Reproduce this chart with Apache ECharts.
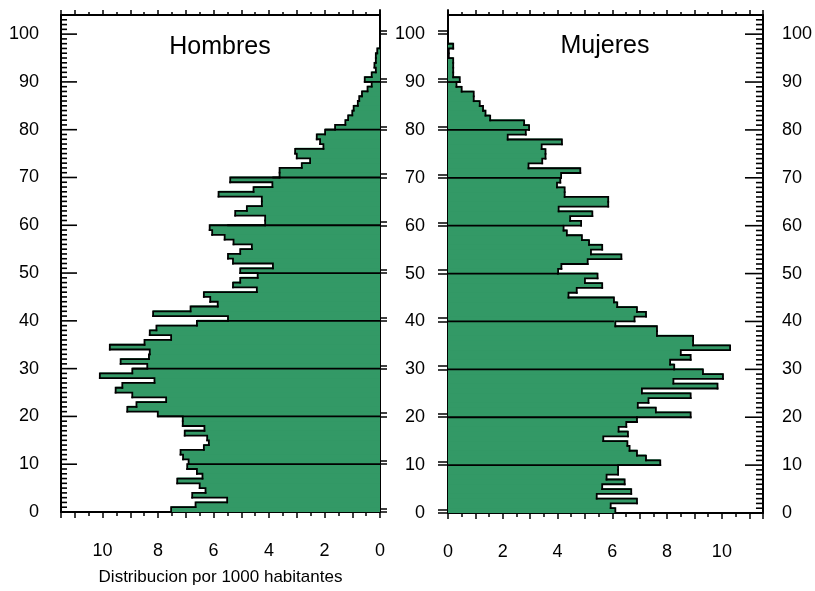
<!DOCTYPE html>
<html><head><meta charset="utf-8">
<script src="https://cdn.jsdelivr.net/npm/echarts@6/dist/echarts.min.js"></script>
<style>html,body{margin:0;padding:0;background:#fff}#c{width:815px;height:591px}</style>
</head><body><div id="c"></div>
<script>
// Ages (one-year groups), values per 1000 inhabitants
const ages = [0,1,2,3,4,5,6,7,8,9,10,11,12,13,14,15,16,17,18,19,20,21,22,23,24,25,26,27,28,29,30,31,32,33,34,35,36,37,38,39,40,41,42,43,44,45,46,47,48,49,50,51,52,53,54,55,56,57,58,59,60,61,62,63,64,65,66,67,68,69,70,71,72,73,74,75,76,77,78,79,80,81,82,83,84,85,86,87,88,89,90,91,92,93,94,95,96,97,98,99,100,101,102,103,104];
const hombres = [7.53,6.65,5.51,6.77,6.29,6.5,7.31,6.4,6.6,6.95,
  6.9,7.1,7.19,6.35,6.17,6.23,7.04,6.33,7.11,7.11,
  8.01,9.11,8.78,7.71,8.93,9.53,9.29,8.13,10.1,8.93,
  8.39,9.35,8.33,8.3,9.74,8.49,7.53,8.3,8.06,6.6,
  5.48,8.18,6.83,5.85,6.12,6.35,4.44,5.3,5.04,4.41,
  5.04,3.86,5.3,5.48,5.04,4.62,5.28,5.6,6.05,6.14,
  4.14,4.14,5.22,4.8,4.26,4.26,5.82,4.56,3.88,5.4,
  3.62,3.62,2.82,2.52,3.0,3.06,2.04,2.16,2.28,1.98,
  1.62,1.25,1.15,1.0,0.95,0.8,0.75,0.65,0.45,0.3,
  0.55,0.3,0.15,0.2,0.15,0.15,0.1,0,0,0,0,0,0,0,0];
const mujeres = [6.11,5.94,6.9,5.43,6.69,5.63,6.45,5.79,6.21,6.21,
  7.75,7.23,6.9,6.63,6.55,5.67,6.57,6.23,6.51,6.9,
  8.86,7.59,6.93,7.32,8.86,7.08,9.84,8.23,10.04,9.31,
  8.26,8.11,8.86,8.5,10.3,8.95,8.95,7.63,7.63,6.11,
  6.81,7.23,6.9,6.18,6.06,4.4,4.7,5.63,5.0,5.46,
  4.02,4.14,5.1,6.33,5.22,5.63,5.15,4.89,4.34,4.22,
  4.86,4.46,5.27,4.04,5.85,5.85,4.26,4.26,3.98,4.1,
  4.13,4.83,2.94,3.44,3.56,3.56,3.42,4.16,2.18,2.84,
  2.96,2.78,1.54,1.37,1.28,1.16,0.94,0.94,0.5,0.31,
  0.43,0.19,0.19,0.19,0.19,0.03,0.03,0.19,0,0,0,0,0,0,0];
// horizontal black lines at each decade (age, extent)
const decadeAges = [10,20,30,40,50,60,70,80,90];
const lineHombres = [6.9,8.0,8.93,6.6,5.04,5.51,3.88,1.98,0.55];
const lineMujeres = [7.75,6.93,8.28,6.06,4.02,4.22,4.13,2.84,0.43];
const xTicks = [0,2,4,6,8,10];
const yLabels = [0,10,20,30,40,50,60,70,80,90,100];
const doubleTicks = [0,0.7,10,10.7,20,20.7,30,30.7,40,40.7,50,50.7,60,60.7,70,70.7,80,80.7,90,90.7,100,100.7];
const X_MAX = 11.5, Y_MAX = 104;

const GREEN = '#339966';
const FONT = "'Liberation Sans', Arial, sans-serif";
const chart = echarts.init(document.getElementById('c'), null, {renderer: 'canvas'});

function fillItem(params, api) {
  const v = api.value(0), a = api.value(1);
  const p0 = api.coord([0, a]), p1 = api.coord([v, a + 1]);
  return {type: 'rect', shape: {x: Math.min(p0[0], p1[0]), y: p1[1] - 1, width: Math.abs(p1[0] - p0[0]), height: p0[1] - p1[1] + 1},
    style: {fill: GREEN}};
}
function outlineItem(params, api) {
  const v = api.value(0), a = api.value(1);
  let n = api.value(0, params.dataIndexInside + 1);
  if (!isFinite(n)) n = 0;
  return {type: 'polyline', shape: {points: [api.coord([v, a]), api.coord([v, a + 1]), api.coord([n, a + 1])]},
    style: {stroke: '#000', lineWidth: 1.8, fill: null, lineCap: 'square', lineJoin: 'miter'}};
}
function hLineItem(params, api) {
  const v = api.value(0), a = api.value(1);
  const p0 = api.coord([0, a]), p1 = api.coord([v, a]);
  return {type: 'line', shape: {x1: p0[0], y1: p0[1], x2: p1[0], y2: p1[1]}, style: {stroke: '#000', lineWidth: 1.8}};
}
// yearly ticks on the outer value axis (long at decades)
function tickItem(dir, longLen, shortLen) {
  return function (params, api) {
    const a = api.value(1);
    const p = api.coord([api.value(0), a]);
    const len = (yLabels.indexOf(a) >= 0) ? longLen : shortLen;
    return {type: 'line', shape: {x1: p[0], y1: p[1], x2: p[0] + dir * len, y2: p[1]}, style: {stroke: '#000', lineWidth: 1.6}};
  };
}
const pairs = (vals) => vals.map((v, i) => [v, ages[i]]);
const linePairs = (vals) => vals.map((v, i) => [v, decadeAges[i]]);
const tickPairs = ages.filter((a) => a < Y_MAX).map((a) => [X_MAX, a]);

const axisLine = {show: true, onZero: false, lineStyle: {color: '#000', width: 2}};
const tickLine = {color: '#000', width: 1.5};
const labelStyle = {color: '#000', fontSize: 18, fontFamily: FONT};
function xAx(grid, pos, inverse, len, minLen, labels) {
  return {type: 'value', gridIndex: grid, position: pos, min: 0, max: X_MAX, interval: 1, inverse: inverse,
    axisLine: axisLine, splitLine: {show: false}, minorSplitLine: {show: false},
    axisTick: {show: true, inside: false, length: len, lineStyle: tickLine},
    minorTick: {show: true, splitNumber: 2, length: minLen, lineStyle: tickLine},
    axisLabel: labels ? Object.assign({margin: 30, showMaxLabel: false,
      formatter: (v) => (xTicks.indexOf(v) >= 0 ? String(v) : '')}, labelStyle) : {show: false}};
}
function yAx(grid, pos, opts) {
  return Object.assign({type: 'value', gridIndex: grid, position: pos, offset: 0, min: 0, max: Y_MAX, interval: 10,
    axisLine: axisLine, splitLine: {show: false}, minorSplitLine: {show: false}}, opts);
}
const noLabel = {show: false};

const option = {
  animation: false,
  backgroundColor: '#fff',
  grid: [{left: 61, top: 15, width: 319, height: 498}, {left: 448, top: 15, width: 320, height: 498}],
  xAxis: [
    Object.assign(xAx(0, 'bottom', true, 6, 4, true), {name: 'Distribucion por 1000 habitantes', nameLocation: 'middle', nameGap: 57,
      nameTextStyle: {color: '#000', fontSize: 17, fontFamily: FONT}}),
    xAx(0, 'top', true, 5, 3, false),
    xAx(1, 'bottom', false, 6, 4, true),
    xAx(1, 'top', false, 5, 3, false)
  ],
  yAxis: [
    yAx(0, 'left', {axisTick: {show: false}, axisLabel: Object.assign({margin: 22, customValues: yLabels}, labelStyle)}),
    yAx(0, 'right', {axisTick: {inside: false, length: 7, customValues: doubleTicks, lineStyle: tickLine}, axisLabel: noLabel}),
    yAx(1, 'left', {axisTick: {inside: false, length: 10, customValues: doubleTicks, lineStyle: tickLine},
      axisLabel: Object.assign({margin: 23, customValues: yLabels}, labelStyle)}),
    yAx(1, 'right', {axisTick: {show: false}, axisLabel: Object.assign({margin: 19, customValues: yLabels}, labelStyle)})
  ],
  graphic: [
    {type: 'text', x: 220, y: 47, style: {text: 'Hombres', fontSize: 25, fontFamily: FONT, fill: '#000', align: 'center', verticalAlign: 'middle'}},
    {type: 'text', x: 605, y: 46, style: {text: 'Mujeres', fontSize: 25, fontFamily: FONT, fill: '#000', align: 'center', verticalAlign: 'middle'}}
  ],
  series: [
    {type: 'custom', xAxisIndex: 0, yAxisIndex: 0, renderItem: fillItem, data: pairs(hombres), z: 2, silent: true},
    {type: 'custom', xAxisIndex: 0, yAxisIndex: 0, renderItem: outlineItem, data: pairs(hombres), z: 3, silent: true},
    {type: 'custom', xAxisIndex: 0, yAxisIndex: 0, renderItem: hLineItem, data: linePairs(lineHombres), z: 4, silent: true},
    {type: 'custom', xAxisIndex: 0, yAxisIndex: 0, renderItem: tickItem(1, 16, 6), data: tickPairs, z: 5, silent: true},
    {type: 'custom', xAxisIndex: 2, yAxisIndex: 2, renderItem: fillItem, data: pairs(mujeres), z: 2, silent: true},
    {type: 'custom', xAxisIndex: 2, yAxisIndex: 2, renderItem: outlineItem, data: pairs(mujeres), z: 3, silent: true},
    {type: 'custom', xAxisIndex: 2, yAxisIndex: 2, renderItem: hLineItem, data: linePairs(lineMujeres), z: 4, silent: true},
    {type: 'custom', xAxisIndex: 2, yAxisIndex: 2, renderItem: tickItem(-1, 18, 7), data: tickPairs, z: 5, silent: true}
  ]
};
chart.setOption(option);
</script></body></html>
